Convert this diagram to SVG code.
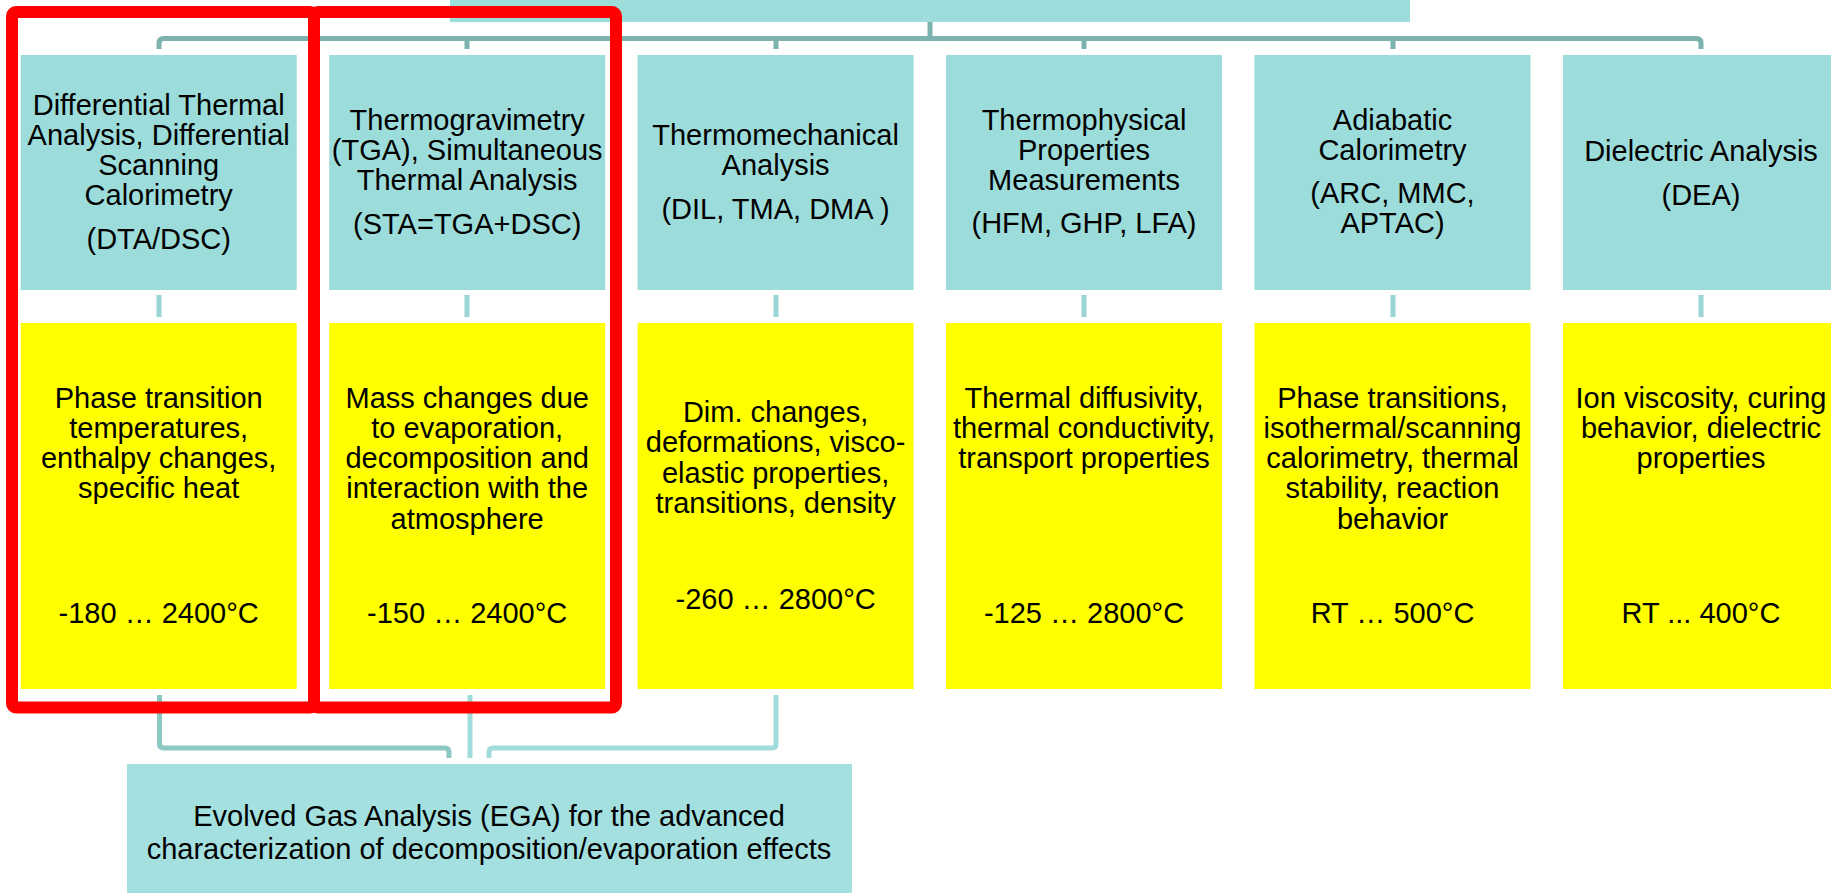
<svg xmlns="http://www.w3.org/2000/svg" width="1831" height="893" viewBox="0 0 1831 893">
<style>
.teal{fill:#9cdcda;}
.ega{fill:#a3e0df;}
.yel{fill:#ffff00;}
text{font-family:"Liberation Sans",Arial,sans-serif;font-size:29px;fill:#000;text-anchor:middle;}
.conn{fill:none;stroke:#7db3ae;stroke-width:5;stroke-linejoin:round;}
.stub{fill:none;stroke:#9ad4d4;stroke-width:5;}
.red{fill:none;stroke:#ff0000;stroke-width:12;}
</style>
<rect width="1831" height="893" fill="#ffffff"/>
<g id="top">
<rect class="teal" x="450" y="-40" width="960" height="62"/>
</g>
<g id="connectors">
<path class="conn" d="M159,49 V43 Q159,38.5 164,38.5 H1696 Q1701,38.5 1701,43 V49"/>
<path class="conn" d="M930,22 V38.5"/>
<path class="conn" d="M467,38.5 V49 M776,38.5 V49 M1084,38.5 V49 M1393,38.5 V49"/>
<path class="stub" d="M159,295 V317 M467,295 V317 M776,295 V317 M1084,295 V317 M1393,295 V317 M1701,295 V317"/>
<path fill="none" stroke="#8cc8c4" stroke-width="5" d="M159.5,695 V744 Q159.5,748 164,748 H445 Q449,748 449,752 V758"/>
<path fill="none" stroke="#a0dcdc" stroke-width="5" d="M470,695 V758"/>
<path fill="none" stroke="#a0dcdc" stroke-width="5" d="M776,695 V744 Q776,748 772,748 H493 Q489,748 489,752 V758"/>
</g>
<g id="n1">
<rect class="teal" x="20.7" y="55" width="276" height="235"/>
<text x="158.7" y="115">Differential Thermal</text>
<text x="158.7" y="145">Analysis, Differential</text>
<text x="158.7" y="175">Scanning</text>
<text x="158.7" y="205">Calorimetry</text>
<text x="158.7" y="249">(DTA/DSC)</text>
</g>
<g id="n2">
<rect class="teal" x="329.2" y="55" width="276" height="235"/>
<text x="467.2" y="130">Thermogravimetry</text>
<text x="467.2" y="160">(TGA), Simultaneous</text>
<text x="467.2" y="190">Thermal Analysis</text>
<text x="467.2" y="234">(STA=TGA+DSC)</text>
</g>
<g id="n3">
<rect class="teal" x="637.6" y="55" width="276" height="235"/>
<text x="775.6" y="145">Thermomechanical</text>
<text x="775.6" y="175">Analysis</text>
<text x="775.6" y="219">(DIL, TMA, DMA )</text>
</g>
<g id="n4">
<rect class="teal" x="946" y="55" width="276" height="235"/>
<text x="1084" y="130">Thermophysical</text>
<text x="1084" y="160">Properties</text>
<text x="1084" y="190">Measurements</text>
<text x="1084" y="233">(HFM, GHP, LFA)</text>
</g>
<g id="n5">
<rect class="teal" x="1254.5" y="55" width="276" height="235"/>
<text x="1392.5" y="130">Adiabatic</text>
<text x="1392.5" y="160">Calorimetry</text>
<text x="1392.5" y="203">(ARC, MMC,</text>
<text x="1392.5" y="233">APTAC)</text>
</g>
<g id="n6">
<rect class="teal" x="1563" y="55" width="276" height="235"/>
<text x="1701" y="161">Dielectric Analysis</text>
<text x="1701" y="205">(DEA)</text>
</g>
<g id="y1">
<rect class="yel" x="20.7" y="323" width="276" height="366"/>
<text x="158.7" y="408">Phase transition</text>
<text x="158.7" y="438">temperatures,</text>
<text x="158.7" y="468">enthalpy changes,</text>
<text x="158.7" y="498">specific heat</text>
<text x="158.7" y="623">-180 … 2400°C</text>
</g>
<g id="y2">
<rect class="yel" x="329.2" y="323" width="276" height="366"/>
<text x="467.2" y="408">Mass changes due</text>
<text x="467.2" y="438">to evaporation,</text>
<text x="467.2" y="468">decomposition and</text>
<text x="467.2" y="498">interaction with the</text>
<text x="467.2" y="529">atmosphere</text>
<text x="467.2" y="623">-150 … 2400°C</text>
</g>
<g id="y3">
<rect class="yel" x="637.6" y="323" width="276" height="366"/>
<text x="775.6" y="422">Dim. changes,</text>
<text x="775.6" y="452">deformations, visco-</text>
<text x="775.6" y="483">elastic properties,</text>
<text x="775.6" y="513">transitions, density</text>
<text x="775.6" y="609">-260 … 2800°C</text>
</g>
<g id="y4">
<rect class="yel" x="946" y="323" width="276" height="366"/>
<text x="1084" y="408">Thermal diffusivity,</text>
<text x="1084" y="438">thermal conductivity,</text>
<text x="1084" y="468">transport properties</text>
<text x="1084" y="623">-125 … 2800°C</text>
</g>
<g id="y5">
<rect class="yel" x="1254.5" y="323" width="276" height="366"/>
<text x="1392.5" y="408">Phase transitions,</text>
<text x="1392.5" y="438">isothermal/scanning</text>
<text x="1392.5" y="468">calorimetry, thermal</text>
<text x="1392.5" y="498">stability, reaction</text>
<text x="1392.5" y="529">behavior</text>
<text x="1392.5" y="623">RT … 500°C</text>
</g>
<g id="y6">
<rect class="yel" x="1563" y="323" width="276" height="366"/>
<text x="1701" y="408">Ion viscosity, curing</text>
<text x="1701" y="438">behavior, dielectric</text>
<text x="1701" y="468">properties</text>
<text x="1701" y="623">RT ... 400°C</text>
</g>
<g id="ega">
<rect class="ega" x="127" y="764" width="725" height="140"/>
<text x="489" y="826">Evolved Gas Analysis (EGA) for the advanced</text>
<text x="489" y="859">characterization of decomposition/evaporation effects</text>
</g>
<g id="highlight">
<rect class="red" x="12" y="12" width="302" height="695.5" rx="4"/>
<rect class="red" x="314" y="12" width="302" height="695.5" rx="4"/>
</g>
</svg>
